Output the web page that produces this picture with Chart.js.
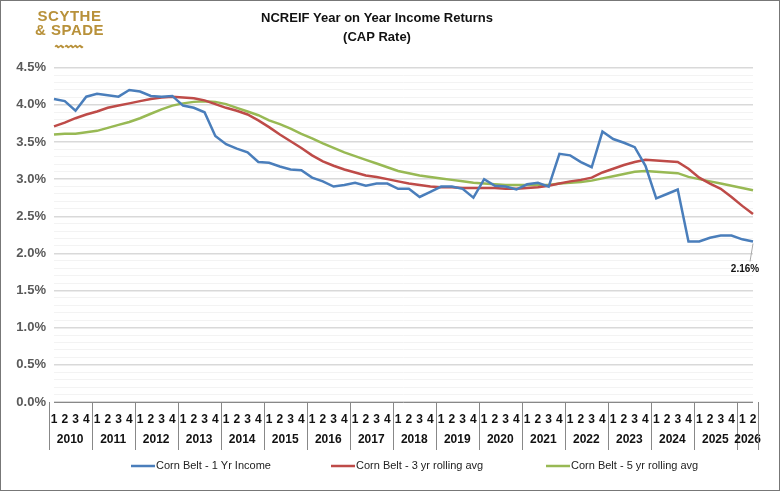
<!DOCTYPE html>
<html><head><meta charset="utf-8">
<script src="https://cdn.jsdelivr.net/npm/chart.js@4"></script>
<style>
body{margin:0;background:#fff;}
#wrap{position:relative;width:778px;height:489px;border:1px solid #777;}
#logo{position:absolute;left:34px;top:8px;font:bold 15px "Liberation Sans";color:#b8913a;line-height:14px;text-align:center;letter-spacing:0.5px}
</style></head>
<body><div id="wrap"><canvas id="c" width="778" height="489"></canvas>
<div id="logo">SCYTHE<br>&amp; SPADE<br><span style="font-size:9px">〰〰〰</span></div></div>
<script>
const years = ["2010","2011","2012","2013","2014","2015","2016","2017","2018","2019","2020","2021","2022","2023","2024","2025","2026"];
const quarters = [];
years.forEach((y, k) => { const n = y === "2026" ? 2 : 4; for (let q = 1; q <= n; q++) quarters.push(String(q)); });

const oneYr = [4.08,4.05,3.92,4.11,4.15,4.13,4.11,4.20,4.18,4.12,4.11,4.12,3.99,3.96,3.90,3.58,3.47,3.41,3.36,3.23,3.22,3.17,3.13,3.12,3.02,2.97,2.90,2.92,2.95,2.91,2.94,
  2.94,2.87,2.87,2.76,2.83,2.90,2.90,2.87,2.75,3.00,2.91,2.90,2.86,2.93,2.95,2.90,3.34,3.32,3.23,3.16,3.64,3.54,3.49,3.43,3.18,2.74,2.80,2.86,2.16,2.16,2.21,2.24,2.24,2.19,2.16];
const threeYr = [3.71,3.76,3.82,3.87,3.91,3.96,3.99,4.02,4.05,4.08,4.10,4.11,4.10,4.09,4.06,4.01,3.96,3.92,3.87,3.79,3.70,3.60,3.51,3.42,3.32,3.24,3.18,3.13,3.09,3.05,3.03,
  3.00,2.97,2.94,2.92,2.90,2.89,2.89,2.88,2.88,2.88,2.88,2.87,2.87,2.88,2.89,2.91,2.94,2.97,2.99,3.02,3.09,3.14,3.19,3.23,3.26,3.25,3.24,3.23,3.14,3.02,2.94,2.87,2.76,2.64,2.53];
const fiveYr = [3.60,3.61,3.61,3.63,3.65,3.69,3.73,3.77,3.82,3.88,3.94,3.99,4.02,4.04,4.05,4.04,4.01,3.96,3.91,3.86,3.79,3.74,3.68,3.61,3.55,3.48,3.42,3.36,3.31,3.26,3.21,
  3.16,3.11,3.08,3.05,3.03,3.01,2.99,2.97,2.95,2.94,2.93,2.92,2.92,2.92,2.92,2.92,2.94,2.95,2.96,2.98,3.01,3.04,3.07,3.10,3.11,3.10,3.09,3.08,3.03,3.00,2.97,2.94,2.91,2.88,2.85];
const seriesNames = ["Corn Belt - 1 Yr Income","Corn Belt - 3 yr rolling avg","Corn Belt - 5 yr rolling avg"];
const colors = ["#4a7ebb","#be4b48","#98b954"];

const xTable = {
  id: 'xTable',
  afterDraw(chart) {
    const ctx = chart.ctx, x = chart.scales.x, a = chart.chartArea;
    const step = x.getPixelForValue(1) - x.getPixelForValue(0);
    ctx.save();
    ctx.strokeStyle = '#888'; ctx.lineWidth = 1;
    ctx.beginPath(); ctx.moveTo(a.left, a.bottom + 0.5); ctx.lineTo(a.right, a.bottom + 0.5); ctx.stroke();
    ctx.fillStyle = '#111'; ctx.textAlign = 'center'; ctx.textBaseline = 'middle';
    let idx = 0;
    years.forEach(y => {
      const n = y === "2026" ? 2 : 4;
      const l = x.getPixelForValue(idx) - step / 2;
      const r = x.getPixelForValue(idx + n - 1) + step / 2;
      ctx.beginPath(); ctx.moveTo(Math.round(l) + 0.5, a.bottom); ctx.lineTo(Math.round(l) + 0.5, a.bottom + 48); ctx.stroke();
      ctx.font = 'bold 12px "Liberation Sans Narrow", "Liberation Sans"';
      for (let q = 0; q < n; q++) ctx.fillText(quarters[idx + q], x.getPixelForValue(idx + q), a.bottom + 18);
      ctx.fillText(y, (l + r) / 2, a.bottom + 38);
      idx += n;
      if (idx === quarters.length) { ctx.beginPath(); ctx.moveTo(Math.round(r) + 0.5, a.bottom); ctx.lineTo(Math.round(r) + 0.5, a.bottom + 48); ctx.stroke(); }
    });
    // legend
    ctx.textAlign = 'left'; ctx.font = '11px "Liberation Sans Narrow", "Liberation Sans"';
    const lx = [130, 330, 545];
    seriesNames.forEach((s, i) => {
      ctx.strokeStyle = colors[i]; ctx.lineWidth = 2.5;
      ctx.beginPath(); ctx.moveTo(lx[i], 465); ctx.lineTo(lx[i] + 24, 465); ctx.stroke();
      ctx.fillStyle = '#222'; ctx.fillText(s, lx[i] + 25, 465);
    });
    // last value label
    const last = oneYr.length - 1;
    const px = x.getPixelForValue(last), py = chart.scales.y.getPixelForValue(oneYr[last]);
    ctx.strokeStyle = '#aaa'; ctx.lineWidth = 1;
    ctx.beginPath(); ctx.moveTo(px, py + 2); ctx.lineTo(px - 3, py + 20); ctx.stroke();
    ctx.fillStyle = '#111'; ctx.font = 'bold 10px "Liberation Sans"'; ctx.textAlign = 'center';
    ctx.fillText(oneYr[last].toFixed(2) + '%', px - 8, py + 28);
    ctx.restore();
  }
};

new Chart(document.getElementById('c'), {
  type: 'line',
  data: {
    labels: quarters,
    datasets: [oneYr, threeYr, fiveYr].map((d, i) => ({
      label: seriesNames[i], data: d, borderColor: colors[i], borderWidth: 2.5,
      pointRadius: 0, tension: 0, fill: false
    }))
  },
  options: {
    responsive: false, animation: false,
    layout: { padding: { top: 8, right: 26, bottom: 88, left: 0 } },
    plugins: {
      legend: { display: false }, tooltip: { enabled: false },
      title: { display: true, text: ['NCREIF Year on Year Income Returns', '(CAP Rate)'],
        color: '#111', font: { family: '"Liberation Sans Narrow", "Liberation Sans"', size: 13, weight: 'bold', lineHeight: 1.45 },
        padding: { top: 0, bottom: 21 } }
    },
    scales: {
      x: { ticks: { display: false }, grid: { display: false }, border: { display: false },
           afterFit(s) { s.height = 0; } },
      y: { min: 0, max: 4.5,
           afterFit(s) { s.width = 53; },
           afterBuildTicks(s) { const t = []; for (let v = 0; v <= 45; v++) t.push({ value: v / 10 }); s.ticks = t; },
           ticks: { autoSkip: false, color: '#595959', padding: 8,
             font: { family: '"Liberation Sans"', size: 13, weight: 'bold' },
             callback: v => (Math.round(v * 10) % 5 === 0 ? v.toFixed(1) + '%' : '') },
           grid: { drawTicks: false, color: c => (Math.round(c.tick.value * 10) % 5 === 0 ? '#d9d9d9' : '#f3f3f3'),
             lineWidth: c => (Math.round(c.tick.value * 10) % 5 === 0 ? 1.5 : 1) },
           border: { display: false } }
    }
  },
  plugins: [xTable]
});
</script></body></html>
